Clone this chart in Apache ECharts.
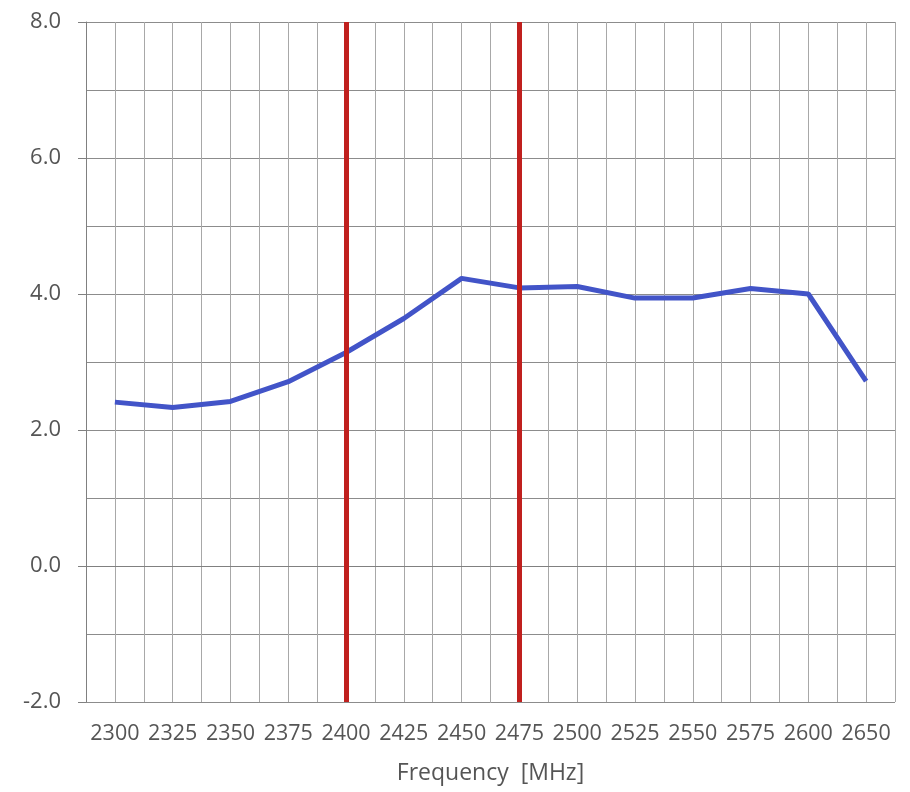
<!DOCTYPE html>
<html>
<head>
<meta charset="utf-8">
<script src="https://cdn.jsdelivr.net/npm/echarts@6/dist/echarts.min.js"></script>
<style>
  html, body { margin: 0; padding: 0; background: #fff; }
  #myChart { width: 910px; height: 792px; }
</style>
</head>
<body>
<div id="myChart"></div>
<script>
// frequency categories (2625 is not in the data)
const freqs = ['2300', '2325', '2350', '2375', '2400', '2425', '2450', '2475',
  '2500', '2525', '2550', '2575', '2600', '2650']
// measured values
const gain = [2.41, 2.33, 2.42, 2.71, 3.14, 3.64, 4.23, 4.09,
  4.11, 3.94, 3.94, 4.08, 4.00, 2.72]
// band edges, red markers
const bandEdges = ['2400', '2475']

const gridColor = '#8c8c8c'
const textColor = '#555555'

let myChart = echarts.init(document.getElementById('myChart'))
myChart.setOption({
  animation: false,
  textStyle: {fontFamily: 'Open Sans'},
  grid: {left: 86, right: 15, top: 22, bottom: 90},
  xAxis: [
    {
      type: 'category',
      data: freqs,
      boundaryGap: true,
      name: 'Frequency  [MHz]',
      nameLocation: 'middle',
      nameGap: 60,
      nameTextStyle: {color: textColor, fontSize: 23},
      axisLine: {lineStyle: {color: '#808080', width: 1}},
      axisTick: {show: false},
      axisLabel: {color: textColor, fontSize: 21.5, margin: 21, interval: 0},
      splitLine: {show: true, interval: 0, lineStyle: {color: '#7f7f7f'}}
    },
    {
      // only for the half-category gridlines
      type: 'value',
      min: 0,
      max: 28,
      interval: 1,
      position: 'bottom',
      axisLine: {show: false},
      axisTick: {show: false},
      axisLabel: {show: false},
      splitLine: {show: true, lineStyle: {color: '#a8a8a8'}}
    }
  ],
  yAxis: {
    type: 'value',
    min: -2,
    max: 8,
    interval: 2,
    axisLine: {show: true, lineStyle: {color: '#808080'}},
    axisTick: {show: true, length: 8, lineStyle: {color: '#808080'}},
    axisLabel: {color: textColor, fontSize: 22, margin: 25, formatter: v => v.toFixed(1)},
    splitLine: {lineStyle: {color: gridColor}},
    minorTick: {show: false, splitNumber: 2},
    minorSplitLine: {show: true, lineStyle: {color: gridColor}}
  },
  series: [
    {
      type: 'line',
      xAxisIndex: 0,
      data: gain,
      symbol: 'none',
      z: 3,
      lineStyle: {color: '#4254c8', width: 5},
      markLine: {
        silent: true,
        symbol: 'none',
        label: {show: false},
        lineStyle: {color: '#c0201e', width: 5, type: 'solid'},
        data: bandEdges.map(f => ({xAxis: f}))
      }
    }
  ]
})
</script>
</body>
</html>
